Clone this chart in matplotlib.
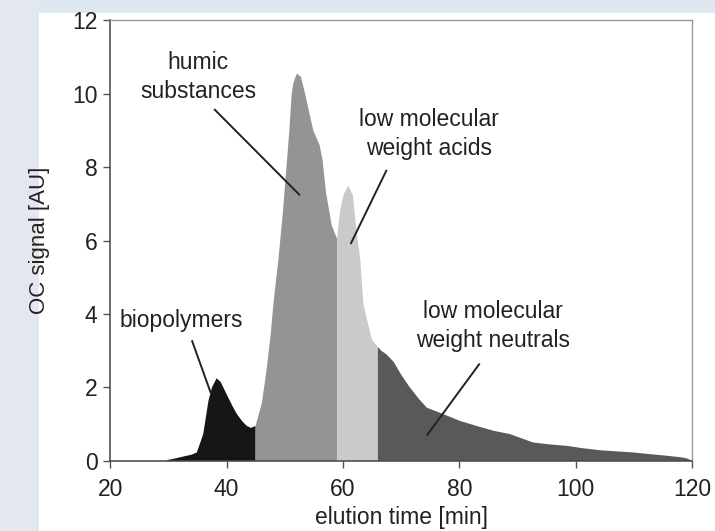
import numpy as np
import matplotlib.pyplot as plt
from matplotlib.patches import Rectangle

plt.rcParams['font.family'] = ['Liberation Sans', 'DejaVu Sans']

# chromatogram: elution time [min], OC signal [AU]
time = [29.7, 31.0, 32.6, 34.0, 34.9, 36.0, 36.9, 37.5, 38.3, 39.0, 40.0, 41.0,
        41.8, 42.7, 43.5, 44.2, 45.0,
        46.1, 46.9, 47.6, 48.1, 48.9, 49.7, 50.4, 50.8, 51.2, 51.5, 52.1, 52.8,
        53.5, 54.2, 54.9, 56.0, 56.5, 57.1, 58.1, 59.0,
        59.5, 60.1, 60.9, 61.7, 62.3, 63.0, 63.5, 64.2, 65.0, 66.0,
        66.6, 67.5, 68.7, 70.0, 71.5, 73.0, 74.4, 77.3, 80.1, 83.0, 85.9,
        88.7, 92.7, 95.5, 98.5, 101.0, 104.2, 107.0, 109.9, 113.0, 115.7,
        118.0, 119.1, 120.0]
signal = [0.02, 0.06, 0.12, 0.17, 0.23, 0.73, 1.64, 2.0, 2.25, 2.15, 1.82, 1.5,
          1.27, 1.08, 0.95, 0.9, 0.95,
          1.6, 2.5, 3.45, 4.35, 5.45, 6.8, 8.2, 9.0, 10.0, 10.3, 10.55, 10.45,
          10.0, 9.5, 9.0, 8.6, 8.2, 7.3, 6.4, 6.05,
          6.8, 7.24, 7.5, 7.24, 6.33, 5.45, 4.3, 3.8, 3.3, 3.1,
          3.0, 2.9, 2.7, 2.35, 2.0, 1.7, 1.45, 1.27, 1.09, 0.95, 0.82,
          0.73, 0.5, 0.45, 0.41, 0.35, 0.29, 0.26, 0.23, 0.18, 0.14,
          0.1, 0.07, 0.0]

# fraction limits [min]
edges = [29.7, 45.0, 59.0, 66.0, 120.0]
fraction_colors = ['#161616', '#939496', '#c9cacc', '#59595b']

labels = ['biopolymers', 'humic\nsubstances', 'low molecular\nweight acids',
          'low molecular\nweight neutrals']
label_xy = [(32.2, 3.82), (35.1, 10.45), (74.75, 8.9), (85.8, 3.67)]
arrow_from = [(34.1, 3.26), (38.0, 9.56), (67.45, 7.9), (83.4, 2.63)]
arrow_to = [(37.25, 1.87), (52.5, 7.25), (61.4, 5.93), (74.5, 0.71)]

time = np.array(time)
signal = np.array(signal)

fig = plt.figure(figsize=(7.15, 5.31), dpi=100)
fig.patches.append(Rectangle((0, 0.975), 1, 0.025, transform=fig.transFigure,
                             facecolor='#dfe7f0', edgecolor='none', zorder=-1))
fig.patches.append(Rectangle((0, 0), 0.055, 1, transform=fig.transFigure,
                             facecolor='#e3e8ee', edgecolor='none', zorder=-1))
ax = fig.add_axes([0.154, 0.132, 0.814, 0.830])

for i in range(len(fraction_colors)):
    m = (time >= edges[i]) & (time <= edges[i + 1])
    ax.fill_between(time[m], signal[m], 0, facecolor=fraction_colors[i],
                    edgecolor='none', linewidth=0)

for lab, xy, a, b in zip(labels, label_xy, arrow_from, arrow_to):
    ax.text(xy[0], xy[1], lab, ha='center', va='center', fontsize=16.5,
            color='#222222', linespacing=1.3)
    ax.plot([a[0], b[0]], [a[1], b[1]], color='#222222', linewidth=1.4)

ax.set_xlim(20, 120)
ax.set_ylim(0, 12)
ax.set_xticks([20, 40, 60, 80, 100, 120])
ax.set_yticks([0, 2, 4, 6, 8, 10, 12])
ax.tick_params(direction='out', length=5, width=1, labelsize=16.5,
               colors='#555555', labelcolor='#222222', pad=4)
ax.tick_params(axis='x', pad=7)
for s in ['left', 'bottom']:
    ax.spines[s].set_color('#444444')
    ax.spines[s].set_linewidth(1.1)
for s in ['top', 'right']:
    ax.spines[s].set_color('#999999')
    ax.spines[s].set_linewidth(1.0)

ax.set_xlabel('elution time [min]', fontsize=16.5, color='#222222', labelpad=4)
ax.set_ylabel('OC signal [AU]', fontsize=16, color='#222222', labelpad=16)

plt.savefig('out.png', dpi=100)
